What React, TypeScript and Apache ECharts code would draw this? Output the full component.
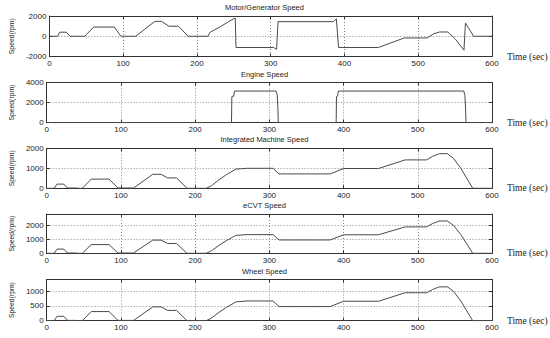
import React, { useEffect, useRef } from "react";
import * as echarts from "echarts";

const panelTitles = [
  "Motor/Generator Speed",
  "Engine Speed",
  "Integrated Machine Speed",
  "eCVT Speed",
  "Wheel Speed",
];

const xTickStep = 100;
const timeMax = 600;

// [time (s), speed (rpm)]
const motorSpeed = [
  [0, 0], [11, 0], [14, 400], [23, 400], [28, 0], [48, 0], [60, 910], [88, 910], [97, 0],
  [117, 0], [143, 1470], [152, 1470], [162, 990], [175, 990], [188, 0], [215, 0],
  [218, 400], [232, 950], [241, 1350], [250, 1740], [252, 1780], [253, -1110],
  [304, -1110], [308, -1300], [310, 1440], [385, 1440], [389, 1720], [392, -1110],
  [446, -1110], [481, -170], [512, -170], [521, 250], [529, 420], [540, 420],
  [550, -250], [562, -1380], [564, 1310], [575, 0], [600, 0],
];

const engineSpeed = [
  [0, 0], [249, 0], [249.5, 2600], [252, 2650], [253, 3150], [309, 3150], [310.5, 2800],
  [311.5, 1500], [312, 0], [390, 0], [390.5, 2600], [392, 2650], [393, 3150], [562, 3150],
  [563.5, 2700], [564.5, 1200], [565, 0], [600, 0],
];

const machineSpeed = [
  [0, 0], [10, 0], [14, 210], [23, 210], [28, 15], [40, 15], [41, 0], [48, 0], [60, 460],
  [84, 460], [96, 15], [117, 15], [143, 700], [154, 700], [163, 520], [175, 520], [189, 0],
  [215, 0], [222, 130], [232, 420], [242, 680], [255, 960], [270, 1000], [305, 1000],
  [313, 720], [382, 720], [400, 990], [447, 990], [483, 1420], [512, 1420], [520, 1600],
  [529, 1730], [540, 1730], [548, 1500], [558, 1000], [566, 500], [574, 0], [600, 0],
];

const ecvtSpeed = [
  [0, 0], [10, 0], [14, 300], [23, 300], [28, 20], [40, 20], [41, 0], [48, 0], [60, 620],
  [84, 620], [96, 20], [117, 20], [143, 940], [154, 940], [163, 700], [175, 700], [189, 0],
  [215, 0], [222, 180], [232, 560], [242, 900], [255, 1280], [270, 1330], [305, 1330],
  [313, 950], [382, 950], [400, 1320], [447, 1320], [483, 1880], [512, 1880], [520, 2120],
  [529, 2300], [540, 2300], [548, 2000], [558, 1330], [566, 670], [574, 0], [600, 0],
];

const wheelSpeed = [
  [0, 0], [10, 0], [14, 150], [23, 150], [28, 10], [40, 10], [41, 0], [48, 0], [60, 310],
  [84, 310], [96, 10], [117, 10], [143, 470], [154, 470], [163, 350], [175, 350], [189, 0],
  [215, 0], [222, 90], [232, 280], [242, 450], [255, 640], [270, 670], [305, 670],
  [313, 480], [382, 480], [400, 660], [447, 660], [483, 950], [512, 950], [520, 1060],
  [529, 1150], [540, 1150], [548, 1000], [558, 670], [566, 330], [574, 0], [600, 0],
];

const seriesData = [motorSpeed, engineSpeed, machineSpeed, ecvtSpeed, wheelSpeed];

// [min, max, tick interval]
const yRanges = [
  [-2000, 2000, 2000],
  [0, 4000, 2000],
  [0, 2000, 1000],
  [0, 2800, 1000],
  [0, 1400, 500],
];

const yAxisName = "Speed(rpm)";
const xAxisName = "Time (sec)";

const tops = [16, 82.5, 148.3, 214, 279.5];
const heights = [40.5, 40.2, 40, 39.3, 41.2];
const LEFT = 37;
const WIDTH = 455;
const SANS = "Liberation Sans, Arial, sans-serif";
const SERIF = "Liberation Serif, Times New Roman, serif";
const FRAME = "#333";
const TEXT = "#222";

export default function App() {
  const ref = useRef<HTMLDivElement>(null);
  useEffect(() => {
    if (!ref.current) return;
    const chart = echarts.init(ref.current, undefined, { renderer: "svg" });
    const grid: any[] = [];
    const xAxis: any[] = [];
    const yAxis: any[] = [];
    const series: any[] = [];
    const title: any[] = [];
    panelTitles.forEach((t, i) => {
      const [ymin, ymax, yint] = yRanges[i];
      grid.push({ left: LEFT, width: WIDTH, top: tops[i], height: heights[i], show: false });
      title.push({
        text: t,
        left: LEFT + WIDTH / 2,
        top: tops[i] - 12.5,
        textAlign: "center",
        padding: 0,
        textStyle: { fontSize: 7.5, fontWeight: "normal", color: TEXT, fontFamily: SANS },
      });
      const tickCommon = {
        axisLine: { show: true, onZero: false, lineStyle: { color: FRAME, width: 1 } },
        axisTick: { show: true, inside: true, length: 3, lineStyle: { color: FRAME, width: 1 } },
      };
      xAxis.push({
        gridIndex: i,
        type: "value",
        min: 0,
        max: timeMax,
        interval: xTickStep,
        position: "bottom",
        ...tickCommon,
        axisLabel: { fontSize: 8, color: TEXT, margin: 3, fontFamily: SANS },
        splitLine: { show: true, lineStyle: { color: "#8a8a8a", type: [1, 2], width: 1 } },
        name: xAxisName,
        nameLocation: "end",
        nameGap: 15,
        nameTextStyle: { fontFamily: SERIF, fontSize: 9.5, color: TEXT, padding: [0, 0, 4, 0] },
      });
      xAxis.push({
        gridIndex: i,
        type: "value",
        min: 0,
        max: timeMax,
        interval: xTickStep,
        position: "top",
        ...tickCommon,
        axisLabel: { show: false },
        splitLine: { show: false },
      });
      yAxis.push({
        gridIndex: i,
        type: "value",
        min: ymin,
        max: ymax,
        interval: yint,
        position: "left",
        ...tickCommon,
        axisLabel: {
          fontSize: 8,
          color: TEXT,
          margin: 3,
          fontFamily: SANS,
          formatter: (v: number) => (v % yint === 0 && Math.abs(v) <= ymax ? String(v) : ""),
        },
        splitLine: { show: true, lineStyle: { color: "#8a8a8a", type: [1, 2], width: 1 } },
        name: yAxisName,
        nameLocation: "middle",
        nameRotate: 90,
        nameGap: 23,
        nameTextStyle: { fontFamily: SANS, fontSize: 6.8, color: TEXT },
      });
      yAxis.push({
        gridIndex: i,
        type: "value",
        min: ymin,
        max: ymax,
        interval: yint,
        position: "right",
        ...tickCommon,
        axisLabel: { show: false },
        splitLine: { show: false },
      });
      series.push({
        type: "line",
        xAxisIndex: 2 * i,
        yAxisIndex: 2 * i,
        data: seriesData[i],
        showSymbol: false,
        symbol: "none",
        silent: true,
        lineStyle: { color: "#4a4a4a", width: 1 },
      });
    });
    chart.setOption({
      animation: false,
      backgroundColor: "#ffffff",
      title,
      grid,
      xAxis,
      yAxis,
      series,
    });
    return () => chart.dispose();
  }, []);
  return (
    <div
      ref={ref}
      style={{ position: "absolute", left: 0, top: 0, width: 550, height: 338, background: "#fff" }}
    />
  );
}
